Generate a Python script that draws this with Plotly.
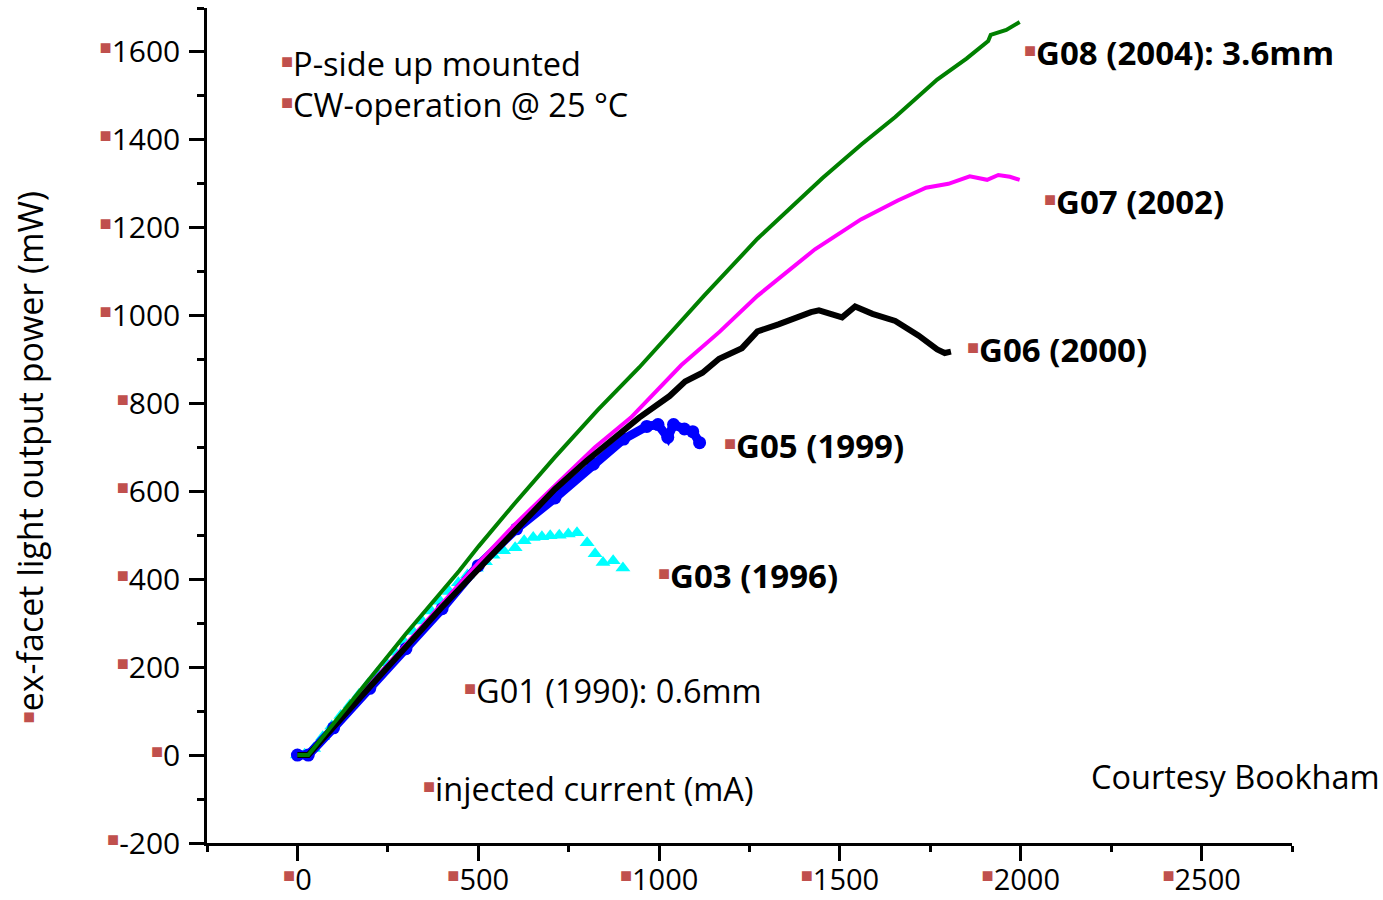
import plotly.graph_objects as go

# ---------------- data ----------------
g08_x = [0, 30, 100, 200, 300, 447, 501, 600, 712, 830, 945, 1124, 1272, 1452, 1560, 1653, 1769, 1850, 1896, 1910, 1917, 1960, 1997]
g08_y = [0, 0, 72, 175, 276, 419, 475, 572, 678, 785, 882, 1045, 1175, 1313, 1390, 1452, 1537, 1585, 1614, 1625, 1639, 1650, 1668]

g07_x = [0, 30, 100, 200, 300, 400, 500, 600, 712, 822, 922, 1061, 1167, 1272, 1431, 1558, 1660, 1738, 1800, 1859, 1907, 1938, 1970, 1997]
g07_y = [0, 0, 66, 160, 254, 345, 437, 524, 613, 700, 768, 887, 963, 1045, 1151, 1219, 1262, 1291, 1300, 1317, 1309, 1320, 1316, 1309]

g06_x = [0, 30, 100, 200, 300, 400, 522, 600, 712, 800, 870, 945, 1029, 1072, 1120, 1166, 1229, 1272, 1330, 1378, 1420, 1442, 1475, 1506, 1542, 1590, 1653, 1717, 1769, 1790, 1807]
g06_y = [0, 0, 64, 156, 247, 337, 442, 510, 605, 670, 719, 768, 817, 850, 870, 902, 926, 964, 980, 996, 1008, 1012, 1005, 996, 1021, 1004, 988, 955, 923, 915, 918]

g05_x = [0, 30, 100, 200, 300, 400, 500, 606, 712, 818, 902, 966, 997, 1024, 1040, 1070, 1093, 1112]
g05_y = [0, 0, 62, 152, 242, 333, 431, 515, 585, 662, 719, 748, 752, 723, 752, 742, 736, 711]

g03_x = [0, 20, 45, 70, 95, 120, 145, 170, 195, 220, 245, 270, 295, 320, 345, 370, 395, 420, 445, 470, 495, 520, 541, 570, 602, 627, 652, 676, 699, 724, 749, 773, 801, 823, 845, 873, 900]
g03_y = [0, 2, 15, 42, 66, 90, 114, 138, 162, 186, 210, 234, 258, 281, 305, 328, 350, 372, 392, 410, 425, 440, 455, 465, 472, 488, 495, 497, 499, 500, 503, 506, 483, 458, 438, 442, 426]

x_ticks = [0, 500, 1000, 1500, 2000, 2500]
y_ticks = [-200, 0, 200, 400, 600, 800, 1000, 1200, 1400, 1600]
x_minor = [-250, 250, 750, 1250, 1750, 2250, 2750]
y_minor = [-100, 100, 300, 500, 700, 900, 1100, 1300, 1500, 1700]

# ---------------- styling ----------------
FONT = "Open Sans"
RED = "#C0504D"
SQ = f"<span style='color:{RED};font-size:20px;baseline-shift:8px'>■</span>"

fig = go.Figure()
fig.add_trace(go.Scatter(x=g03_x, y=g03_y, mode="markers",
                         marker=dict(symbol="triangle-up", size=13, color="#00FFFF")))
fig.add_trace(go.Scatter(x=g05_x, y=g05_y, mode="lines+markers",
                         line=dict(color="#0000FF", width=9),
                         marker=dict(symbol="circle", size=13, color="#0000FF")))
fig.add_trace(go.Scatter(x=g07_x, y=g07_y, mode="lines",
                         line=dict(color="#FF00FF", width=4)))
fig.add_trace(go.Scatter(x=g06_x, y=g06_y, mode="lines",
                         line=dict(color="#000000", width=6)))
fig.add_trace(go.Scatter(x=g08_x, y=g08_y, mode="lines",
                         line=dict(color="#008000", width=4)))

axis_common = dict(showline=True, linecolor="black", linewidth=2.5, ticks="outside",
                   ticklen=15, tickwidth=2.5, tickcolor="black", showgrid=False,
                   zeroline=False, automargin=False)

fig.update_xaxes(range=[-250, 2750], tickmode="array", tickvals=x_ticks,
                 ticktext=[f"{SQ}{v}" for v in x_ticks], ticklabelstandoff=-6,
                 tickfont=dict(family=FONT, size=29, color="black"),
                 minor=dict(tickmode="array", tickvals=x_minor, ticks="outside",
                            ticklen=6, tickwidth=2.5, tickcolor="black"),
                 **axis_common)
fig.update_yaxes(range=[-200, 1700], tickmode="array", tickvals=y_ticks,
                 ticktext=[f"{SQ}{v}" for v in y_ticks], ticklabelstandoff=3,
                 tickfont=dict(family=FONT, size=30, color="black"),
                 minor=dict(tickmode="array", tickvals=y_minor, ticks="outside",
                            ticklen=7, tickwidth=2.5, tickcolor="black"),
                 **axis_common)

def note(x, y, text, bold=False, square=True, size=33):
    t = f"<b>{text}</b>" if bold else text
    fig.add_annotation(x=x, y=y, xref="x", yref="y", text=(SQ + t) if square else t,
                       showarrow=False, xanchor="left", yanchor="middle",
                       font=dict(family=FONT, size=size, color="black"))

note(-52, 1573, "P-side up mounted", size=32.5)
note(-52, 1481, "CW-operation @ 25 °C", size=32.5)
note(2003, 1598, "G08 (2004): 3.6mm", bold=True)
note(2058, 1260, "G07 (2002)", bold=True)
note(1845, 923, "G06 (2000)", bold=True)
note(1174, 704, "G05 (1999)", bold=True)
note(992, 408, "G03 (1996)", bold=True)
note(456, 146, "G01 (1990): 0.6mm", size=32.5)
note(343, -75, "injected current (mA)", size=32.5)
note(2190, -48, "Courtesy Bookham", square=False, size=32.5)

fig.add_annotation(x=-0.163, y=0.462, xref="paper", yref="paper",
                   text=SQ + "ex-facet light output power (mW)", textangle=-90,
                   showarrow=False, xanchor="center", yanchor="middle",
                   font=dict(family=FONT, size=34, color="black"))

fig.update_layout(width=1383, height=900, showlegend=False,
                  paper_bgcolor="white", plot_bgcolor="white",
                  margin=dict(l=207, r=91, t=8, b=57),
                  font=dict(family=FONT))

fig.write_html("out.html", config={"displayModeBar": False},
               post_script="document.body.style.margin='0';document.body.style.padding='0';")
